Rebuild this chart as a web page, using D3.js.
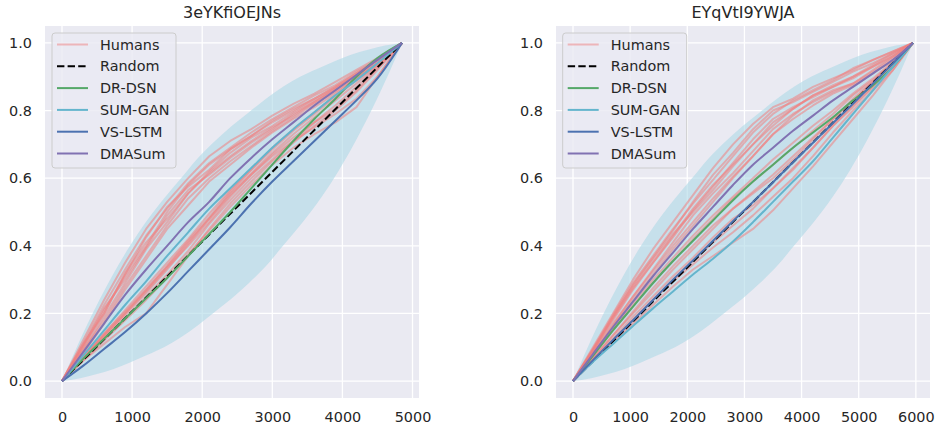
<!DOCTYPE html>
<html>
<head>
<meta charset="utf-8">
<title>Cumulative score curves</title>
<script src="https://cdn.jsdelivr.net/npm/d3@7"></script>
<style>
  body { margin: 0; background: #fff; }
  text { font-family: "DejaVu Sans", sans-serif; fill: #262626; }
</style>
</head>
<body>
<div id="chart"></div>
<script>
// ---- data ----
var titles = ["3eYKfiOEJNs", "EYqVtI9YWJA"];
var frameCount = [4850, 5950];
var xTickValues = [[0, 1000, 2000, 3000, 4000, 5000], [0, 1000, 2000, 3000, 4000, 5000, 6000]];
var yTickValues = [0, 0.2, 0.4, 0.6, 0.8, 1.0];
var seriesNames = ["Humans", "Random", "DR-DSN", "SUM-GAN", "VS-LSTM", "DMASum"];

// shaded band, as fraction of the video
var bandT    = [0, .05, .1, .15, .2, .25, .3, .35, .4, .45, .5, .55, .6, .65, .7, .75, .8, .85, .9, .95, 1];
var bandLow  = [0, .008, .02, .035, .055, .077, .1, .13, .165, .205, .245, .29, .34, .4, .46, .525, .6, .685, .78, .885, 1];
var bandHigh = [0, .115, .22, .315, .4, .475, .54, .6, .66, .71, .755, .795, .835, .87, .9, .923, .945, .965, .98, .992, 1];

// left panel
var framesA = [0, 300, 600, 900, 1200, 1500, 1800, 2100, 2400, 2700, 3000, 3300, 3600, 3900, 4200, 4500, 4850];
var humansA = [
  [0, .12, .24, .35, .45, .53, .60, .665, .71, .745, .785, .82, .85, .885, .92, .955, 1],
  [0, .11, .225, .33, .43, .51, .585, .645, .69, .735, .775, .81, .845, .875, .915, .95, 1],
  [0, .10, .20, .315, .425, .515, .575, .625, .685, .725, .77, .805, .835, .87, .91, .95, 1],
  [0, .09, .19, .29, .39, .47, .555, .62, .675, .72, .755, .795, .83, .865, .905, .945, 1],
  [0, .105, .215, .30, .395, .49, .565, .61, .66, .705, .745, .79, .825, .86, .90, .94, 1],
  [0, .09, .18, .28, .37, .46, .54, .60, .65, .695, .74, .78, .82, .855, .895, .94, 1],
  [0, .11, .20, .32, .41, .48, .555, .615, .665, .71, .75, .785, .825, .865, .905, .95, 1],
  [0, .08, .17, .27, .36, .45, .52, .59, .64, .69, .735, .775, .81, .85, .895, .94, 1],
  [0, .10, .21, .31, .40, .50, .58, .64, .685, .725, .765, .80, .835, .87, .91, .95, 1],
  [0, .07, .14, .21, .28, .35, .42, .495, .565, .625, .685, .74, .79, .84, .89, .94, 1],
  [0, .065, .13, .195, .26, .33, .405, .48, .555, .615, .675, .73, .78, .83, .88, .935, 1],
  [0, .065, .125, .185, .25, .315, .385, .465, .535, .60, .655, .71, .765, .815, .87, .93, 1],
  [0, .06, .11, .16, .20, .285, .37, .45, .525, .59, .65, .705, .755, .80, .855, .92, 1],
  [0, .07, .135, .20, .27, .34, .415, .485, .56, .625, .69, .745, .795, .845, .89, .935, 1],
  [0, .06, .12, .18, .24, .305, .375, .445, .515, .58, .64, .69, .73, .765, .81, .90, 1],
  [0, .065, .135, .20, .265, .335, .40, .47, .545, .61, .67, .72, .765, .805, .86, .925, 1],
  [0, .07, .14, .205, .27, .34, .41, .48, .55, .61, .665, .71, .75, .79, .835, .90, 1]
];
var drdsnA  = [0, .065, .125, .185, .245, .305, .37, .435, .50, .57, .64, .71, .775, .835, .90, .955, 1];
var sumganA = [0, .075, .15, .225, .295, .37, .44, .51, .57, .63, .69, .745, .795, .845, .89, .94, 1];
var vslstmA = [0, .045, .095, .145, .20, .26, .325, .39, .455, .525, .59, .65, .71, .77, .83, .895, 1];
var dmasumA = [0, .085, .17, .255, .33, .40, .47, .53, .60, .66, .715, .765, .815, .86, .905, .95, 1];

// right panel
var framesB = [0, 350, 700, 1050, 1400, 1750, 2100, 2450, 2800, 3150, 3500, 3850, 4200, 4550, 4900, 5250, 5600, 5950];
var humansB = [
  [0, .10, .20, .30, .39, .47, .55, .63, .70, .76, .81, .835, .87, .895, .92, .95, .975, 1],
  [0, .095, .19, .285, .365, .445, .53, .61, .675, .745, .80, .825, .855, .885, .915, .94, .97, 1],
  [0, .09, .185, .275, .35, .425, .505, .575, .645, .715, .775, .81, .84, .87, .90, .935, .97, 1],
  [0, .085, .17, .25, .33, .41, .49, .555, .615, .68, .745, .79, .825, .855, .88, .92, .96, 1],
  [0, .09, .18, .27, .35, .43, .51, .58, .64, .70, .755, .805, .845, .87, .895, .93, .965, 1],
  [0, .075, .16, .24, .315, .39, .46, .53, .60, .665, .73, .775, .815, .85, .875, .91, .95, 1],
  [0, .095, .195, .29, .37, .45, .525, .595, .665, .735, .79, .83, .86, .89, .925, .95, .975, 1],
  [0, .08, .165, .25, .325, .40, .47, .54, .605, .665, .73, .785, .83, .86, .88, .915, .955, 1],
  [0, .09, .19, .28, .36, .435, .50, .565, .635, .70, .765, .805, .845, .875, .90, .93, .96, 1],
  [0, .075, .15, .22, .29, .355, .42, .48, .54, .59, .64, .69, .74, .79, .845, .89, .94, 1],
  [0, .07, .135, .20, .265, .33, .39, .45, .51, .56, .61, .665, .72, .775, .83, .885, .94, 1],
  [0, .06, .12, .18, .24, .30, .355, .41, .46, .51, .57, .63, .69, .755, .815, .87, .93, 1],
  [0, .06, .115, .17, .225, .28, .33, .37, .41, .45, .505, .57, .635, .705, .775, .845, .92, 1],
  [0, .065, .135, .205, .275, .34, .40, .46, .51, .555, .60, .655, .715, .775, .835, .885, .94, 1],
  [0, .06, .12, .18, .24, .295, .345, .395, .44, .49, .545, .60, .665, .735, .80, .86, .92, 1],
  [0, .075, .155, .23, .30, .365, .43, .49, .545, .60, .655, .705, .755, .80, .85, .895, .945, 1],
  [0, .065, .125, .19, .25, .31, .365, .425, .48, .52, .57, .625, .69, .755, .81, .87, .935, 1]
];
var drdsnB  = [0, .075, .15, .22, .29, .355, .415, .475, .535, .59, .64, .69, .735, .78, .83, .875, .93, 1];
var sumganB = [0, .057, .11, .163, .215, .265, .315, .362, .413, .47, .53, .59, .65, .72, .79, .86, .93, 1];
var vslstmB = [0, .062, .122, .18, .24, .30, .357, .415, .473, .53, .588, .647, .705, .763, .82, .88, .94, 1];
var dmasumB = [0, .08, .16, .235, .31, .38, .45, .515, .58, .64, .69, .74, .785, .83, .87, .91, .95, 1];

// ---- style ----
var colors = {
  "Humans": "#f08080", "Random": "#000000", "DR-DSN": "#55a868",
  "SUM-GAN": "#64b5cd", "VS-LSTM": "#4c72b0", "DMASum": "#8172b2"
};
var W = 939, H = 430;
var plotLeft = [45, 556], plotTop = 26, plotW = 374, plotH = 372;

var svg = d3.select("#chart").append("svg")
  .attr("width", W).attr("height", H);

var panels = [
  { frames: framesA, humans: humansA, models: [drdsnA, sumganA, vslstmA, dmasumA] },
  { frames: framesB, humans: humansB, models: [drdsnB, sumganB, vslstmB, dmasumB] }
];

panels.forEach(function (p, k) {
  var n = frameCount[k];
  var x = d3.scaleLinear().domain([-0.05 * n, 1.05 * n]).range([0, plotW]);
  var y = d3.scaleLinear().domain([-0.05, 1.05]).range([plotH, 0]);

  var g = svg.append("g").attr("transform", "translate(" + plotLeft[k] + "," + plotTop + ")");

  g.append("rect").attr("width", plotW).attr("height", plotH).attr("fill", "#eaeaf2");

  // grid
  g.append("g").selectAll("line").data(xTickValues[k]).enter().append("line")
    .attr("x1", function (d) { return x(d); }).attr("x2", function (d) { return x(d); })
    .attr("y1", 0).attr("y2", plotH)
    .attr("stroke", "#fff").attr("stroke-width", 1.3);
  g.append("g").selectAll("line").data(yTickValues).enter().append("line")
    .attr("y1", function (d) { return y(d); }).attr("y2", function (d) { return y(d); })
    .attr("x1", 0).attr("x2", plotW)
    .attr("stroke", "#fff").attr("stroke-width", 1.3);

  // axes (labels only)
  var xa = g.append("g").attr("transform", "translate(0," + plotH + ")")
    .call(d3.axisBottom(x).tickValues(xTickValues[k]).tickSize(0).tickPadding(13.5).tickFormat(d3.format("d")));
  var ya = g.append("g")
    .call(d3.axisLeft(y).tickValues(yTickValues).tickSize(0).tickPadding(13).tickFormat(d3.format(".1f")));
  [xa, ya].forEach(function (a) {
    a.select(".domain").remove();
    a.selectAll("text").style("font-size", "14.4px").style("font-family", "DejaVu Sans, sans-serif").attr("fill", "#262626");
  });

  // band
  var band = d3.area()
    .x(function (d, i) { return x(bandT[i] * n); })
    .y0(function (d, i) { return y(bandLow[i]); })
    .y1(function (d, i) { return y(bandHigh[i]); })
    .curve(d3.curveMonotoneX);
  g.append("path").datum(bandT).attr("d", band)
    .attr("fill", "#add8e6").attr("fill-opacity", 0.6);

  var line = d3.line()
    .x(function (d, i) { return x(p.frames[i]); })
    .y(function (d) { return y(d); });

  // humans
  p.humans.forEach(function (h) {
    g.append("path").datum(h).attr("d", line)
      .attr("fill", "none").attr("stroke", colors["Humans"])
      .attr("stroke-width", 2).attr("stroke-opacity", 0.55)
      .attr("stroke-linejoin", "round");
  });

  // random
  g.append("line")
    .attr("x1", x(0)).attr("y1", y(0)).attr("x2", x(n)).attr("y2", y(1))
    .attr("stroke", colors["Random"]).attr("stroke-width", 2)
    .attr("stroke-dasharray", "7.4,3.2");

  // models
  var smooth = d3.line()
    .x(function (d, i) { return x(p.frames[i]); })
    .y(function (d) { return y(d); })
    .curve(d3.curveMonotoneX);
  p.models.forEach(function (m, j) {
    g.append("path").datum(m).attr("d", smooth)
      .attr("fill", "none").attr("stroke", colors[seriesNames[j + 2]])
      .attr("stroke-width", 2);
  });

  // title
  g.append("text").attr("x", plotW / 2).attr("y", 18 - plotTop)
    .attr("text-anchor", "middle").style("font-size", "16px").text(titles[k]);

  // legend
  var lg = g.append("g").attr("transform", "translate(" + (k === 0 ? 7 : 6.7) + ",7)");
  lg.append("rect").attr("width", 124).attr("height", 135).attr("rx", 3)
    .attr("fill", "#eaeaf2").attr("fill-opacity", 0.8)
    .attr("stroke", "#cccccc").attr("stroke-width", 1);
  seriesNames.forEach(function (s, j) {
    var yy = 11.5 + j * 21.8;
    var ln = lg.append("line").attr("x1", 5).attr("x2", 36).attr("y1", yy).attr("y2", yy)
      .attr("stroke", colors[s]).attr("stroke-width", 2);
    if (s === "Humans") ln.attr("stroke-opacity", 0.5);
    if (s === "Random") ln.attr("stroke-dasharray", "7.4,3.2");
    lg.append("text").attr("x", 48).attr("y", yy).attr("dy", "0.35em")
      .style("font-size", "14.4px").text(s);
  });
});
</script>
</body>
</html>
